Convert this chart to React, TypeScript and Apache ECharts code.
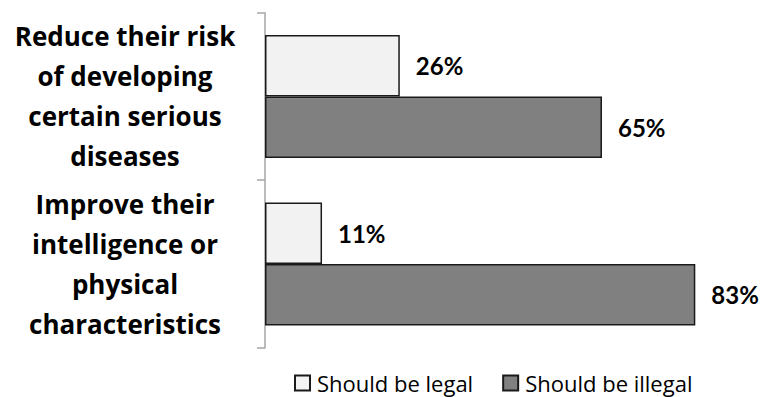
import React, { useEffect, useRef } from "react";
import * as echarts from "echarts";

const categories = [
  "Reduce their risk\nof developing\ncertain serious\ndiseases",
  "Improve their\nintelligence or\nphysical\ncharacteristics",
];
const seriesNames = ["Should be legal", "Should be illegal"];
const legalValues = [26, 11];
const illegalValues = [65, 83];

export default function App() {
  const ref = useRef<HTMLDivElement>(null);
  useEffect(() => {
    if (!ref.current) return;
    const chart = echarts.init(ref.current, null, { renderer: "svg" });
    const catFont = "'Open Sans', 'Noto Sans', sans-serif";
    const valFont = "Lato, 'Noto Sans', sans-serif";
    const barBorder = { borderColor: "#1a1a1a", borderWidth: 1.5 };
    const valueLabel = {
      show: true,
      position: "right",
      distance: 16,
      formatter: "{c}%",
      fontFamily: valFont,
      fontWeight: "bold",
      fontSize: 24,
      color: "#000",
    };
    chart.setOption({
      animation: false,
      grid: { left: 265, top: 12.7, width: 466.6, height: 335, containLabel: false },
      xAxis: {
        type: "value",
        min: 0,
        max: 90,
        show: false,
      },
      yAxis: {
        type: "category",
        inverse: true,
        data: categories,
        axisLine: { show: true, lineStyle: { color: "#a6a6a6", width: 1.5 } },
        axisTick: { show: true, length: 8, lineStyle: { color: "#a6a6a6", width: 1.5 } },
        axisLabel: {
          align: "center",
          margin: 140,
          fontFamily: catFont,
          fontWeight: "bold",
          fontSize: 26,
          lineHeight: 40,
          color: "#000",
        },
        splitLine: { show: false },
      },
      legend: {
        left: 294,
        top: 372,
        padding: 0,
        itemWidth: 15,
        itemHeight: 15,
        itemGap: 29,
        icon: "rect",
        textStyle: {
          fontFamily: catFont,
          fontSize: 22,
          lineHeight: 15,
          color: "#000",
          padding: [0, 0, 0, 2],
        },
        data: seriesNames,
      },
      series: [
        {
          name: seriesNames[0],
          type: "bar",
          data: legalValues,
          barWidth: 61.5,
          barGap: "0%",
          itemStyle: { color: "#f2f2f2", ...barBorder },
          label: valueLabel,
        },
        {
          name: seriesNames[1],
          type: "bar",
          data: illegalValues,
          barWidth: 61.5,
          barGap: "0%",
          itemStyle: { color: "#808080", ...barBorder },
          label: valueLabel,
        },
      ],
    });
    return () => chart.dispose();
  }, []);
  return <div ref={ref} style={{ width: 760, height: 397, position: "absolute", left: 0, top: 0 }} />;
}
